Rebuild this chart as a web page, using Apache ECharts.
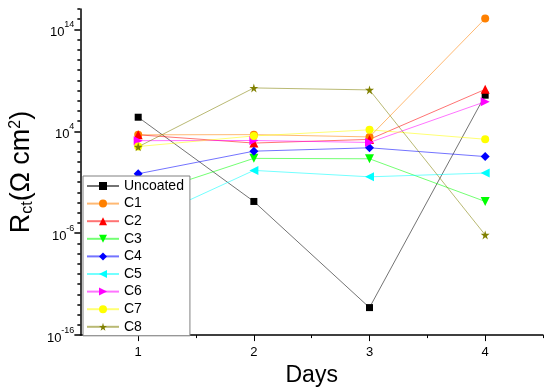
<!DOCTYPE html>
<html><head><meta charset="utf-8">
<script src="https://cdn.jsdelivr.net/npm/echarts@6/dist/echarts.min.js"></script>
<style>html,body{margin:0;padding:0;background:#fff}#c{width:550px;height:392px}</style>
</head><body><div id="c"></div>
<script>
// ---- data (R_ct in ohm cm^2) ----
const days = [1, 2, 3, 4];
const uncoated = [2.4e5, 1.3e-3, 5e-14, 3.5e7];
const c1 = [4.5e3, 4.7e3, 2.8e3, 1.15e15];
const c2 = [4.5e3, 7e2, 1.6e3, 1.3e8];
const c3 = [4e-3, 22, 20, 1.3e-3];
const c4 = [0.68, 112, 240, 33];
const c5 = [8.7e-6, 1.45, 0.34, 0.8];
const c6 = [1.2e3, 1.25e3, 8e2, 8e6];
const c7 = [3.2e2, 3.5e3, 1.4e4, 1.66e3];
const c8 = [3e2, 1.8e8, 1.15e8, 6.8e-7];
const seriesNames = ['Uncoated', 'C1', 'C2', 'C3', 'C4', 'C5', 'C6', 'C7', 'C8'];
const seriesValues = [uncoated, c1, c2, c3, c4, c5, c6, c7, c8];
const xTickLabels = [1, 2, 3, 4];
const xMinorTicks = [1.5, 2.5, 3.5, 4.5];
const yTickLabels = [1e-16, 1e-6, 1e4, 1e14];
const yMinorTicks = [];
for (let e = -16; e <= 16; e++) yMinorTicks.push(Math.pow(10, e));

// ---- styles ----
const colors = ['#000000', '#FF8000', '#FF0000', '#00FF00', '#0000FF', '#00FFFF', '#FF00FF', '#FFFF00', '#808000'];
const symbols = [
  'rect', 'circle', 'triangle',
  'path://M0,0 L10,0 L5,9 Z',
  'diamond',
  'path://M9,0 L9,10 L0,5 Z',
  'path://M0,0 L9,5 L0,10 Z',
  'circle',
  'path://M50,0 L61,35 L98,35 L68,57 L79,91 L50,70 L21,91 L32,57 L2,35 L39,35 Z'
];
const symbolSizes = [7, 8, 9, 9, 9, 9, 9, 8, 9];

const chart = echarts.init(document.getElementById('c'));
const font = 'Liberation Sans, Arial, sans-serif';

const series = seriesNames.map((name, k) => ({
  name: name,
  type: 'line',
  xAxisIndex: 0,
  yAxisIndex: 0,
  data: days.map((d, i) => [d, seriesValues[k][i]]),
  symbol: symbols[k],
  symbolSize: symbolSizes[k],
  showSymbol: true,
  lineStyle: { color: colors[k], width: 1, opacity: 0.55 },
  itemStyle: { color: colors[k], opacity: 1 },
  emphasis: { disabled: true },
  animation: false
}));

function expLabel(v) {
  const e = Math.round(Math.log10(v));
  return '{b|10}{s|' + e + '}';
}

chart.setOption({
  backgroundColor: '#fff',
  animation: false,
  grid: { left: 73, right: 7, top: 9, bottom: 53, containLabel: false },
  xAxis: [{
    type: 'value', min: 0.5, max: 4.5,
    axisLine: { show: true, onZero: false, lineStyle: { color: '#000', width: 1.5 } },
    axisTick: { show: true, inside: false, length: 6, customValues: xTickLabels, lineStyle: { color: '#000', width: 1 } },
    axisLabel: { customValues: xTickLabels, color: '#000', fontSize: 13, fontFamily: font, margin: 11 },
    splitLine: { show: false },
    name: 'Days', nameLocation: 'middle', nameGap: 23,
    nameTextStyle: { color: '#000', fontSize: 23, fontFamily: font }
  }, {
    type: 'value', min: 0.5, max: 4.5, position: 'bottom', gridIndex: 0,
    axisLine: { show: false },
    axisTick: { show: true, inside: false, length: 3, customValues: xMinorTicks, lineStyle: { color: '#000', width: 1 } },
    axisLabel: { show: false },
    splitLine: { show: false }
  }],
  yAxis: [{
    type: 'log', logBase: 10, min: 1e-16, max: 1e16,
    axisLine: { show: true, onZero: false, lineStyle: { color: '#000', width: 1.5 } },
    axisTick: { show: true, inside: false, length: 6, customValues: yTickLabels, lineStyle: { color: '#000', width: 1.5 } },
    axisLabel: {
      customValues: yTickLabels, margin: 6, formatter: expLabel,
      rich: {
        b: { fontSize: 13, color: '#000', fontFamily: font, verticalAlign: 'bottom', padding: [6, 0, 0, 0] },
        s: { fontSize: 9, color: '#000', fontFamily: font, verticalAlign: 'top', padding: [0, 0, 8, 0] }
      }
    },
    splitLine: { show: false },
    name: 'R{sub|ct}(Ω cm{sup|2})', nameLocation: 'middle', nameGap: 38,
    nameTextStyle: {
      color: '#000', fontSize: 27, fontFamily: font,
      rich: {
        sub: { fontSize: 16, fontFamily: font, color: '#000', verticalAlign: 'bottom', padding: [12, 0, 0, 0] },
        sup: { fontSize: 16, fontFamily: font, color: '#000', verticalAlign: 'top', padding: [0, 0, 12, 0] }
      }
    }
  }, {
    type: 'log', logBase: 10, min: 1e-16, max: 1e16, position: 'left',
    axisLine: { show: false },
    axisTick: { show: true, inside: false, length: 3, customValues: yMinorTicks, lineStyle: { color: '#000', width: 1.5 } },
    axisLabel: { show: false },
    splitLine: { show: false }
  }],
  legend: {
    orient: 'vertical', left: 83, top: 176,
    data: seriesNames,
    backgroundColor: '#fff', borderColor: '#808080', borderWidth: 1, borderRadius: 0,
    padding: [3, 6, 2, 3], itemGap: 3.6, itemWidth: 32, itemHeight: 10,
    textStyle: { fontSize: 14, lineHeight: 14, color: '#000', fontFamily: font },
    selectedMode: false, z: 10
  },
  series: series
});
</script>
</body></html>
